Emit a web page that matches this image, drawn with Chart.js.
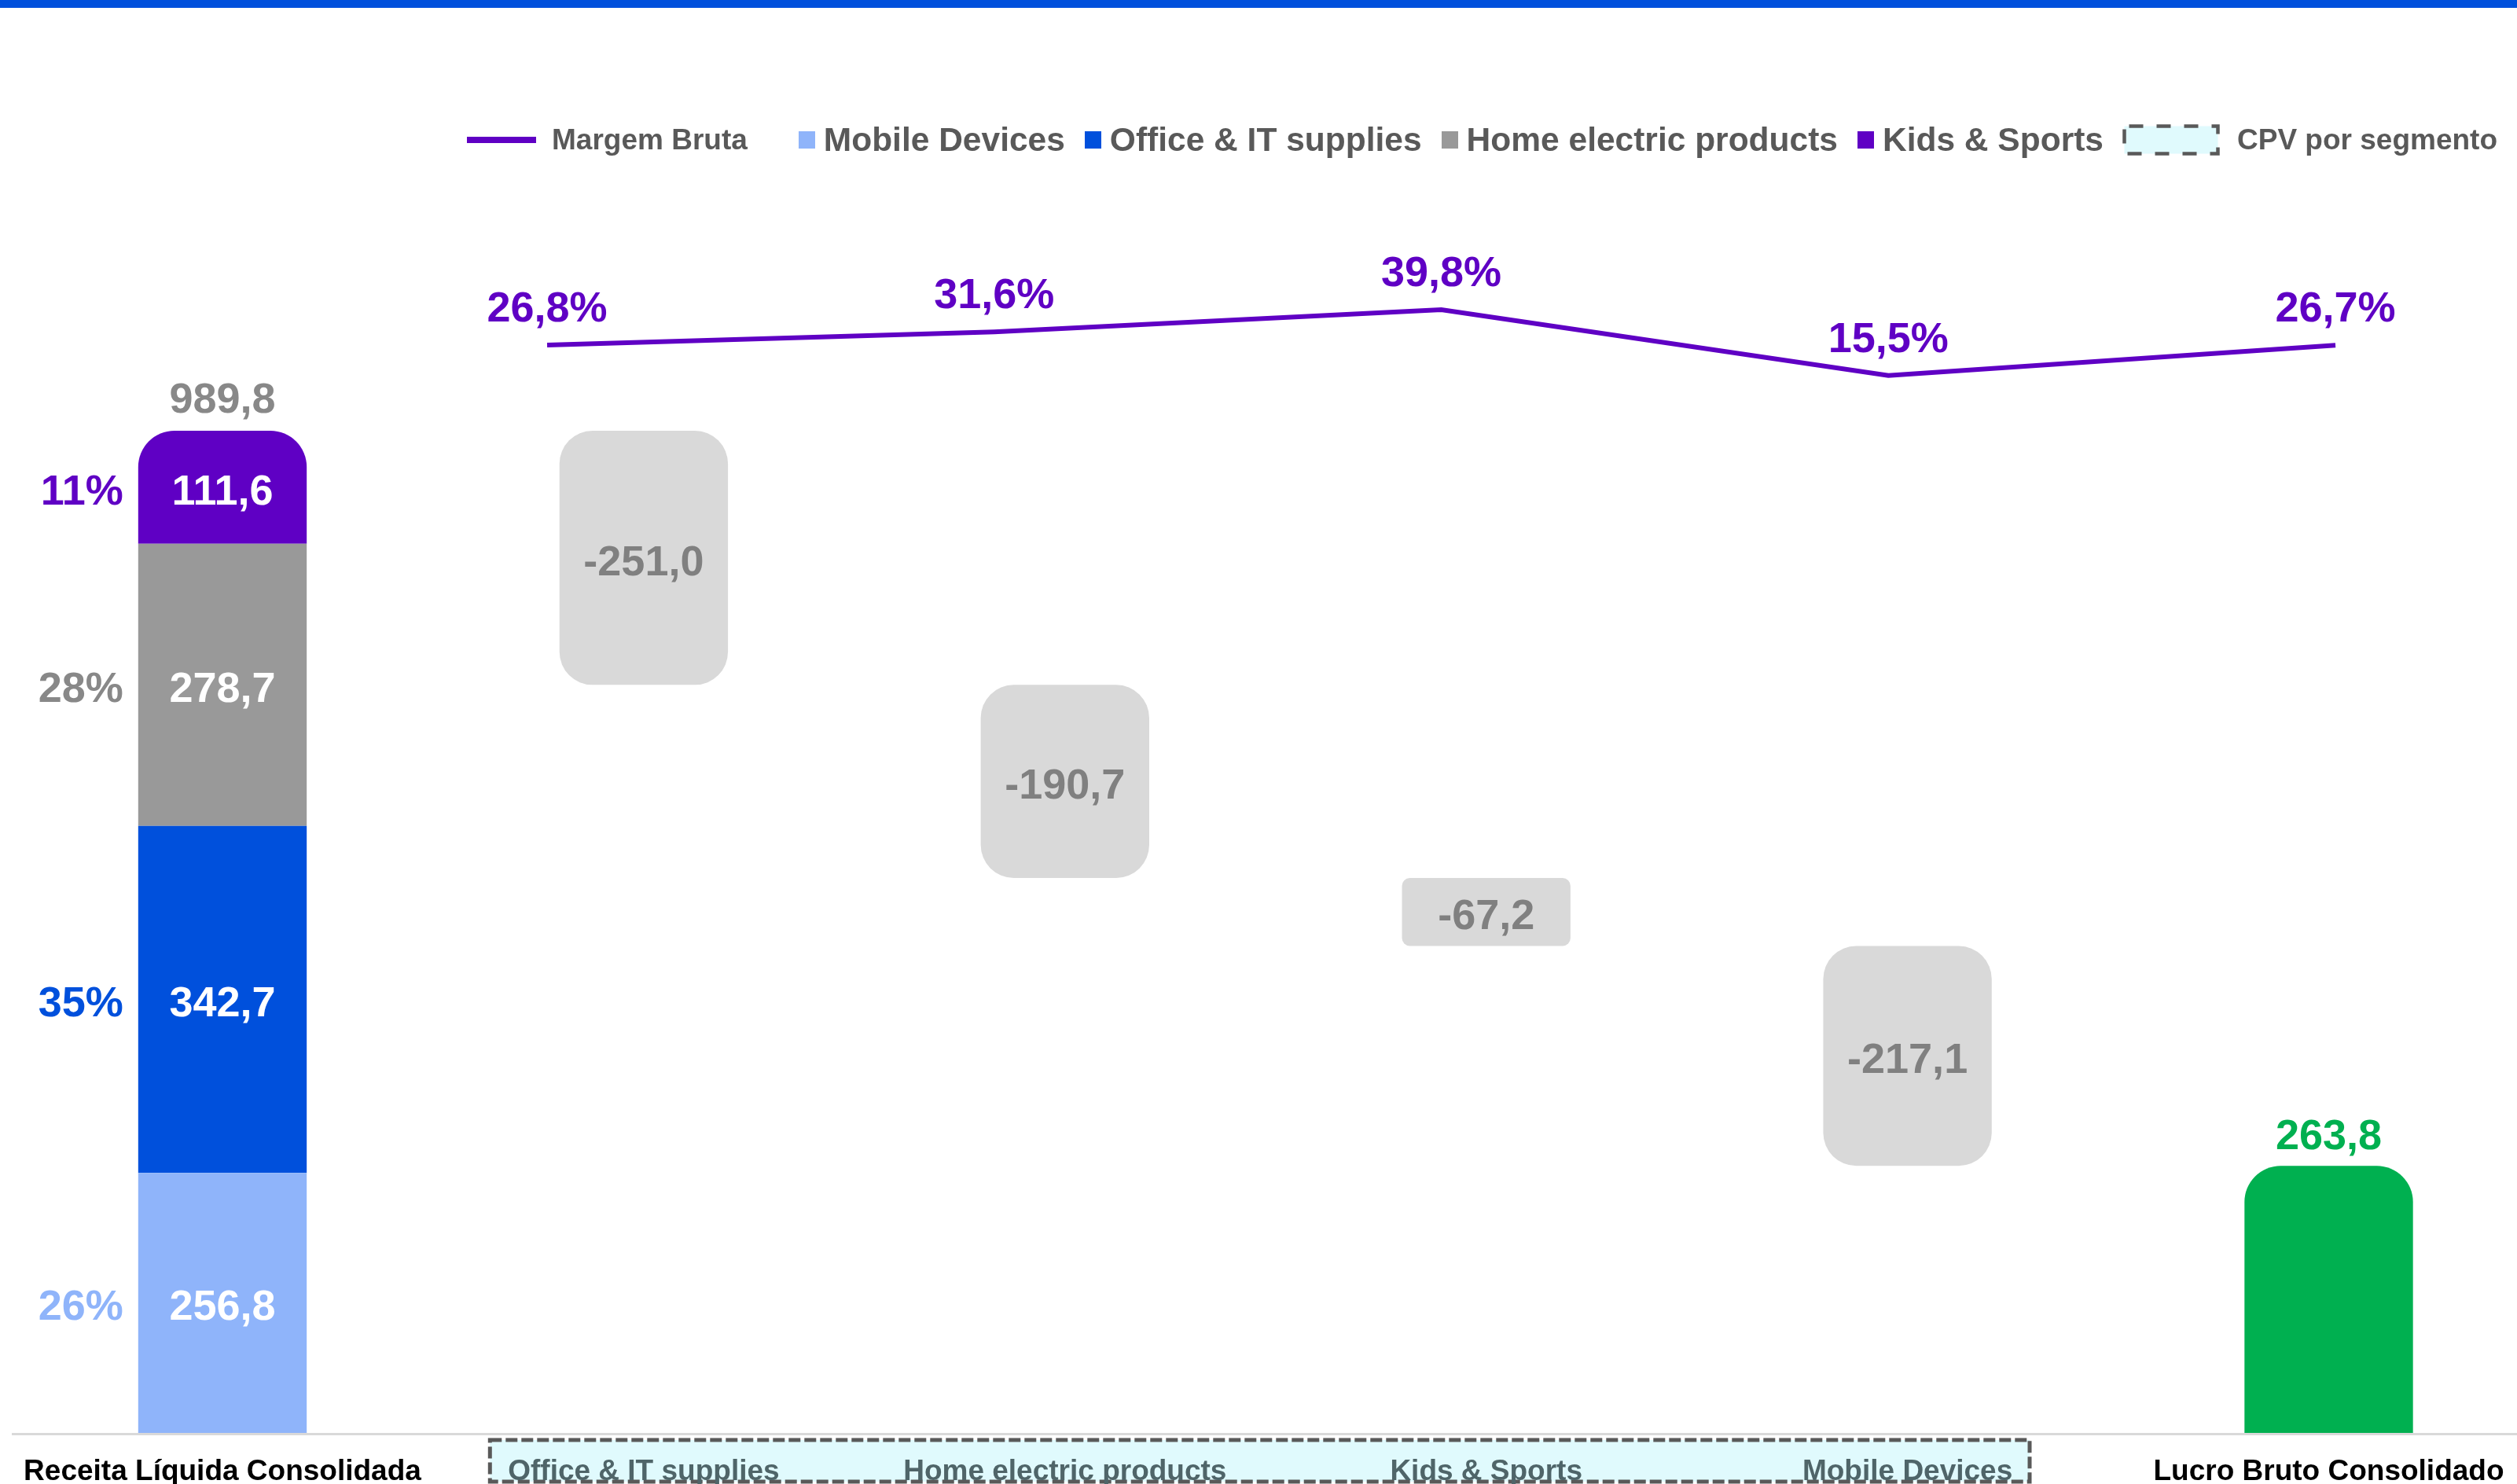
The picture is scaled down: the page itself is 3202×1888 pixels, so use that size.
<!DOCTYPE html>
<html>
<head>
<meta charset="utf-8">
<script src="https://cdn.jsdelivr.net/npm/chart.js@4.4.1/dist/chart.umd.min.js"></script>
<style>
  html, body { margin: 0; padding: 0; background: #fff; }
  #wrap { position: relative; width: 3202px; height: 1888px; overflow: hidden; font-family: "Liberation Sans", Arial, sans-serif; }
  #topbar { position: absolute; left: 0; top: 0; width: 100%; height: 10px; background: #0050dc; }
  #chart { position: absolute; left: 0; top: 0; }
  #legend { position: absolute; left: 594px; top: 148px; height: 60px; display: flex; align-items: center; font-weight: 700; color: #595959; white-space: nowrap; }
  .lg-line { width: 88px; height: 8px; margin-right: 20px; }
  .lg-small { font-size: 37px; }
  .lg-sq { width: 21px; height: 22px; margin-right: 11px; }
  .lg-text { font-size: 42.5px; margin-right: 25px; }
  .lg-box { display: block; margin-right: 22px; }
</style>
</head>
<body>
<div id="wrap">
  <canvas id="chart" width="3202" height="1888"></canvas>
  <div id="topbar"></div>
  <div id="legend"></div>
</div>
<script>
// x-axis categories
const categories = ['Receita Líquida Consolidada', 'Office & IT supplies', 'Home electric products', 'Kids & Sports', 'Mobile Devices', 'Lucro Bruto Consolidado'];

// revenue split (left stacked bar), bottom to top
const revenueSegments = ['Mobile Devices', 'Office & IT supplies', 'Home electric products', 'Kids & Sports'];
const revenueValues = [256.8, 342.7, 278.7, 111.6];
const revenueTotal = 989.8;

// CPV per segment (waterfall steps)
const cpvValues = [-251.0, -190.7, -67.2, -217.1];
const grossProfit = 263.8;

// Margem Bruta line (%)
const marginValues = [26.8, 31.6, 39.8, 15.5, 26.7];

const FONT = '"Liberation Sans", Arial, sans-serif';
const PURPLE = '#5f00c4';
const segColors = ['#8fb4fa', '#0050dc', '#999999', '#5f00c4'];
const pctColors = ['#8fb4fa', '#0050dc', '#888888', '#5f00c4'];
const cpvColor = '#d9d9d9';
const profitColor = '#00b050';

const fmt = v => v.toFixed(1).replace('.', ',');

// legend (html)
const legend = document.getElementById('legend');
function addEl(cls, bg, text) {
  const el = document.createElement('span');
  el.className = cls;
  if (bg) el.style.background = bg;
  if (text) el.textContent = text;
  legend.appendChild(el);
  return el;
}
addEl('lg-line', PURPLE);
addEl('lg-small', null, 'Margem Bruta').style.marginRight = '65px';
revenueSegments.forEach((name, i) => {
  addEl('lg-sq', segColors[i]);
  addEl('lg-text', null, name);
});
legend.lastChild.style.marginRight = '24px';
legend.insertAdjacentHTML('beforeend',
  '<svg class="lg-box" width="124" height="40"><rect x="2.5" y="2.5" width="119" height="35" fill="#e0fafd" ' +
  'stroke="#595959" stroke-width="4.5" stroke-dasharray="18 17" stroke-dashoffset="-6"/></svg>');
addEl('lg-small', null, 'CPV por segmento');

// datasets
const datasets = [];
let cum = 0;
revenueValues.forEach((v, i) => {
  const data = categories.map(() => null);
  data[0] = [cum, cum + v];
  cum += v;
  datasets.push({
    label: revenueSegments[i],
    data: data,
    backgroundColor: segColors[i],
    borderSkipped: false,
    borderRadius: i === revenueValues.length - 1 ? { topLeft: 46, topRight: 46, bottomLeft: 0, bottomRight: 0 } : 0
  });
});

const cpvData = categories.map(() => null);
let level = revenueTotal;
cpvValues.forEach((v, i) => {
  cpvData[i + 1] = [level + v, level];
  level += v;
});
datasets.push({
  label: 'CPV',
  data: cpvData,
  backgroundColor: cpvColor,
  borderSkipped: false,
  borderRadius: ctx => {
    const raw = ctx.raw;
    return raw && Math.abs(raw[1] - raw[0]) < 100 ? 10 : 42;
  }
});

const profitData = categories.map(() => null);
profitData[categories.length - 1] = grossProfit;
datasets.push({
  label: 'Lucro Bruto',
  data: profitData,
  backgroundColor: profitColor,
  borderRadius: 46
});

datasets.forEach(d => {
  d.grouped = false;
  d.clip = false;
  d.categoryPercentage = 1;
  d.barPercentage = 0.4;
});

datasets.push({
  type: 'line',
  label: 'Margem Bruta',
  data: marginValues.map((v, i) => ({ x: i, y: v })),
  xAxisID: 'x2',
  yAxisID: 'y2',
  borderColor: PURPLE,
  borderWidth: 6,
  pointRadius: 0,
  tension: 0,
  clip: false
});

// dashed CPV box behind labels + base line
const backdrop = {
  id: 'backdrop',
  beforeDraw(chart) {
    const ctx = chart.ctx;
    const x = chart.scales.x;
    const base = chart.scales.y.getPixelForValue(0);
    const step = x.getPixelForValue(1) - x.getPixelForValue(0);
    const left = x.getPixelForValue(1) - 0.365 * step;
    const right = x.getPixelForValue(4) + 0.29 * step;
    const top = base + 9;
    const bottom = chart.height - 3;
    ctx.save();
    ctx.fillStyle = '#e0fafd';
    ctx.fillRect(left, top, right - left, bottom - top);
    ctx.setLineDash([15, 5]);
    ctx.lineWidth = 5;
    ctx.strokeStyle = '#595959';
    ctx.strokeRect(left, top, right - left, bottom - top);
    ctx.setLineDash([]);
    ctx.strokeStyle = '#d9d9d9';
    ctx.lineWidth = 3;
    ctx.beginPath();
    ctx.moveTo(15, base + 1.5);
    ctx.lineTo(chart.width, base + 1.5);
    ctx.stroke();
    ctx.restore();
  }
};

// value labels
const valueLabels = {
  id: 'valueLabels',
  afterDatasetsDraw(chart) {
    const ctx = chart.ctx;
    const shift = 7;
    ctx.save();
    ctx.textBaseline = 'middle';
    ctx.font = '700 54px ' + FONT;

    let topBar = null;
    revenueValues.forEach((v, i) => {
      const bar = chart.getDatasetMeta(i).data[0];
      const cy = (bar.y + bar.base) / 2 + shift;
      ctx.textAlign = 'center';
      ctx.fillStyle = '#ffffff';
      ctx.fillText(fmt(v), bar.x, cy);
      ctx.textAlign = 'right';
      ctx.fillStyle = pctColors[i];
      ctx.fillText(Math.round(v / revenueTotal * 100) + '%', bar.x - bar.width / 2 - 19, cy);
      topBar = bar;
    });
    ctx.textAlign = 'center';
    ctx.fillStyle = '#888888';
    ctx.fillText(fmt(revenueTotal), topBar.x, Math.min(topBar.y, topBar.base) - 38);

    const cpvMeta = chart.getDatasetMeta(revenueValues.length);
    cpvValues.forEach((v, i) => {
      const bar = cpvMeta.data[i + 1];
      ctx.fillStyle = '#808080';
      ctx.fillText(fmt(v), bar.x, (bar.y + bar.base) / 2 + shift);
    });

    const pBar = chart.getDatasetMeta(revenueValues.length + 1).data[categories.length - 1];
    ctx.fillStyle = profitColor;
    ctx.fillText(fmt(grossProfit), pBar.x, Math.min(pBar.y, pBar.base) - 36);

    const lineMeta = chart.getDatasetMeta(revenueValues.length + 2);
    ctx.fillStyle = PURPLE;
    marginValues.forEach((v, i) => {
      const pt = lineMeta.data[i];
      ctx.fillText(fmt(v) + '%', pt.x, pt.y - 45);
    });
    ctx.restore();
  }
};

Chart.defaults.font.family = FONT;

new Chart(document.getElementById('chart'), {
  type: 'bar',
  data: { labels: categories, datasets: datasets },
  options: {
    responsive: false,
    animation: false,
    devicePixelRatio: 1,
    events: [],
    layout: { padding: { left: 283, right: 239.5, top: 260, bottom: 0 } },
    plugins: { legend: { display: false }, tooltip: { enabled: false } },
    scales: {
      x: {
        offset: false,
        grid: { display: false, drawTicks: false },
        border: { display: false },
        afterFit: scale => {
          scale.height = 65;
          // labels may overhang the chart area, keep it fixed
          scale.paddingLeft = 0;
          scale.paddingRight = 0;
        },
        ticks: {
          autoSkip: false,
          maxRotation: 0,
          minRotation: 0,
          padding: 28,
          font: { size: 37, weight: '700' },
          color: ctx => (ctx.index === 0 || ctx.index === categories.length - 1) ? '#000000' : '#4f6569'
        }
      },
      y: { display: false, min: 0, max: 1213.4 },
      x2: { type: 'linear', axis: 'x', display: false, offset: false, bounds: 'data', min: -0.7262, max: 3.985 },
      y2: { type: 'linear', axis: 'y', display: false, bounds: 'data', min: -374.86, max: 78.71 }
    }
  },
  plugins: [backdrop, valueLabels]
});
</script>
</body>
</html>
